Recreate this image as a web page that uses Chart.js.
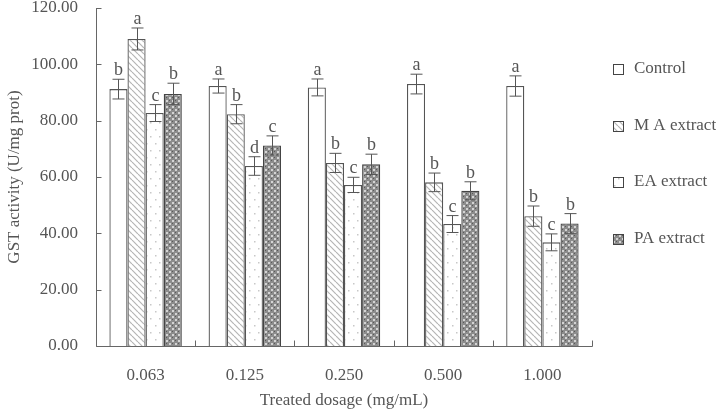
<!DOCTYPE html>
<html>
<head>
<meta charset="utf-8">
<script src="https://cdn.jsdelivr.net/npm/chart.js@4/dist/chart.umd.min.js"></script>
<style>
  html, body { margin: 0; padding: 0; background: #fff; }
  #wrap { position: relative; width: 716px; height: 415px; }
</style>
</head>
<body>
<div id="wrap"><canvas id="chart"></canvas></div>
<script>
const categories = ["0.063", "0.125", "0.250", "0.500", "1.000"]
const seriesNames = ["Control", "M A extract", "EA extract", "PA extract"]

const controlValues = [91.2, 92.3, 91.8, 93.0, 92.3]
const controlErrors = [3.5, 2.5, 3.0, 3.5, 3.6]
const controlLetters = ["b", "a", "a", "a", "a"]

const maValues = [109.0, 82.3, 65.0, 58.1, 46.1]
const maErrors = [3.9, 3.4, 3.4, 3.3, 3.6]
const maLetters = ["a", "b", "b", "b", "b"]

const eaValues = [82.7, 63.9, 57.2, 43.3, 36.8]
const eaErrors = [3.0, 3.3, 2.7, 3.0, 3.0]
const eaLetters = ["c", "d", "c", "c", "c"]

const paValues = [89.5, 71.2, 64.5, 55.1, 43.5]
const paErrors = [3.8, 3.4, 3.6, 3.2, 3.5]
const paLetters = ["b", "c", "b", "b", "b"]

const yTicks = [0, 20, 40, 60, 80, 100, 120]

const FONT = "'Liberation Serif', 'Times New Roman', serif"
const TEXT = "#555"
const LINE = "#666"

function makePattern(kind) {
  const c = document.createElement("canvas")
  const g = c.getContext("2d")
  if (kind === "hatch") {
    const s = 6
    c.width = c.height = s
    g.fillStyle = "#fff"
    g.fillRect(0, 0, s, s)
    g.strokeStyle = "#b5b5b5"
    g.lineWidth = 1.2
    for (const o of [-s, 0, s]) {
      g.beginPath()
      g.moveTo(o, 0)
      g.lineTo(o + s, s)
      g.stroke()
    }
  } else if (kind === "dots") {
    c.width = 9; c.height = 14
    g.fillStyle = "#fff"
    g.fillRect(0, 0, 9, 14)
    g.fillStyle = "#c8c8c8"
    g.fillRect(2, 3, 1.5, 1.5)
    g.fillRect(6, 10, 1.5, 1.5)
  } else if (kind === "cross") {
    c.width = c.height = 6
    g.fillStyle = "#8c8c8c"
    g.fillRect(0, 0, 6, 6)
    g.fillStyle = "#d4d4d4"
    g.fillRect(1, 1, 2, 2)
    g.fillRect(4, 4, 2, 2)
    g.fillStyle = "#5a5a5a"
    g.fillRect(4, 1, 1, 1)
    g.fillRect(1, 4, 1, 1)
  } else {
    c.width = c.height = 2
    g.fillStyle = "#fff"
    g.fillRect(0, 0, 2, 2)
  }
  return g.createPattern(c, "repeat")
}

const fills = [makePattern("plain"), makePattern("hatch"), makePattern("dots"), makePattern("cross")]
const borders = ["#555", "#555", "#555", "#444"]

const datasets = [
  { label: seriesNames[0], data: controlValues, errors: controlErrors, letters: controlLetters },
  { label: seriesNames[1], data: maValues, errors: maErrors, letters: maLetters },
  { label: seriesNames[2], data: eaValues, errors: eaErrors, letters: eaLetters },
  { label: seriesNames[3], data: paValues, errors: paErrors, letters: paLetters }
].map((d, i) => ({
  ...d,
  backgroundColor: fills[i],
  borderColor: borders[i],
  borderWidth: 1.3,
  categoryPercentage: 0.73,
  barPercentage: 1.0
}))

// error bars, significance letters, inward axis ticks, legend
const decorations = {
  id: "decorations",
  afterDatasetsDraw(chart) {
    const { ctx, scales: { x, y }, chartArea } = chart
    ctx.save()
    ctx.strokeStyle = "#555"
    ctx.lineWidth = 1
    ctx.fillStyle = TEXT
    ctx.font = "18px " + FONT
    ctx.textAlign = "center"
    ctx.textBaseline = "alphabetic"
    chart.data.datasets.forEach((ds, di) => {
      const meta = chart.getDatasetMeta(di)
      meta.data.forEach((bar, i) => {
        const v = ds.data[i], e = ds.errors[i]
        const cx = Math.round(bar.x) + 0.5
        const yt = y.getPixelForValue(v + e)
        const yb = y.getPixelForValue(v - e)
        ctx.beginPath()
        ctx.moveTo(cx, yt); ctx.lineTo(cx, yb)
        ctx.moveTo(cx - 6, yt); ctx.lineTo(cx + 6, yt)
        ctx.moveTo(cx - 6, yb); ctx.lineTo(cx + 6, yb)
        ctx.stroke()
        ctx.fillText(ds.letters[i], cx, yt - 4)
      })
    })

    // axes with inward ticks
    ctx.strokeStyle = LINE
    ctx.beginPath()
    const left = Math.round(chartArea.left) + 0.5
    const bottom = Math.round(chartArea.bottom) + 0.5
    ctx.moveTo(left, Math.round(chartArea.top))
    ctx.lineTo(left, bottom)
    ctx.lineTo(Math.round(chartArea.right) + 0.5, bottom)
    yTicks.forEach(t => {
      const py = Math.round(y.getPixelForValue(t)) + 0.5
      ctx.moveTo(left, py); ctx.lineTo(left + 5, py)
    })
    const step = x.getPixelForValue(1) - x.getPixelForValue(0)
    for (let i = 0; i <= categories.length; i++) {
      const px = Math.round(x.getPixelForValue(i) - step / 2) + 0.5
      ctx.moveTo(px, bottom); ctx.lineTo(px, bottom - 6)
    }
    ctx.stroke()

    // legend
    ctx.textAlign = "left"
    ctx.textBaseline = "middle"
    ctx.font = "17px " + FONT
    const legendY = [69, 126, 182, 239]
    chart.data.datasets.forEach((ds, di) => {
      const ly = legendY[di]
      ctx.fillStyle = ds.backgroundColor
      ctx.fillRect(613, ly - 5, 10, 10)
      ctx.strokeStyle = "#444"
      ctx.strokeRect(613.5, ly - 4.5, 10, 10)
      ctx.fillStyle = TEXT
      ctx.fillText(ds.label, 634, ly)
    })
    ctx.restore()
  }
}

new Chart(document.getElementById("chart"), {
  type: "bar",
  data: { labels: categories, datasets },
  plugins: [decorations],
  options: {
    responsive: true,
    maintainAspectRatio: false,
    animation: false,
    layout: { padding: { top: 8, right: 124, left: 0, bottom: 0 } },
    plugins: { legend: { display: false }, tooltip: { enabled: false } },
    scales: {
      x: {
        grid: { display: false, drawTicks: false },
        border: { display: false },
        ticks: { color: TEXT, font: { family: FONT, size: 17 }, padding: 19 },
        title: { display: true, text: "Treated dosage (mg/mL)", color: TEXT, font: { family: FONT, size: 17 }, padding: { top: 6 } },
        afterFit(scale) { scale.height = 69 }
      },
      y: {
        min: 0,
        max: 120,
        afterBuildTicks(scale) { scale.ticks = yTicks.map(v => ({ value: v })) },
        grid: { display: false, drawTicks: false },
        border: { display: false },
        ticks: { color: TEXT, font: { family: FONT, size: 17 }, padding: 18, callback: v => v.toFixed(2) },
        title: { display: true, text: "GST activity (U/mg prot)", color: TEXT, font: { family: FONT, size: 17 }, padding: { bottom: 4 } },
        afterFit(scale) {
          scale.width = 96
          scale.paddingTop = 0
          scale.paddingBottom = 0
        }
      }
    }
  }
})
</script>
</body>
</html>
